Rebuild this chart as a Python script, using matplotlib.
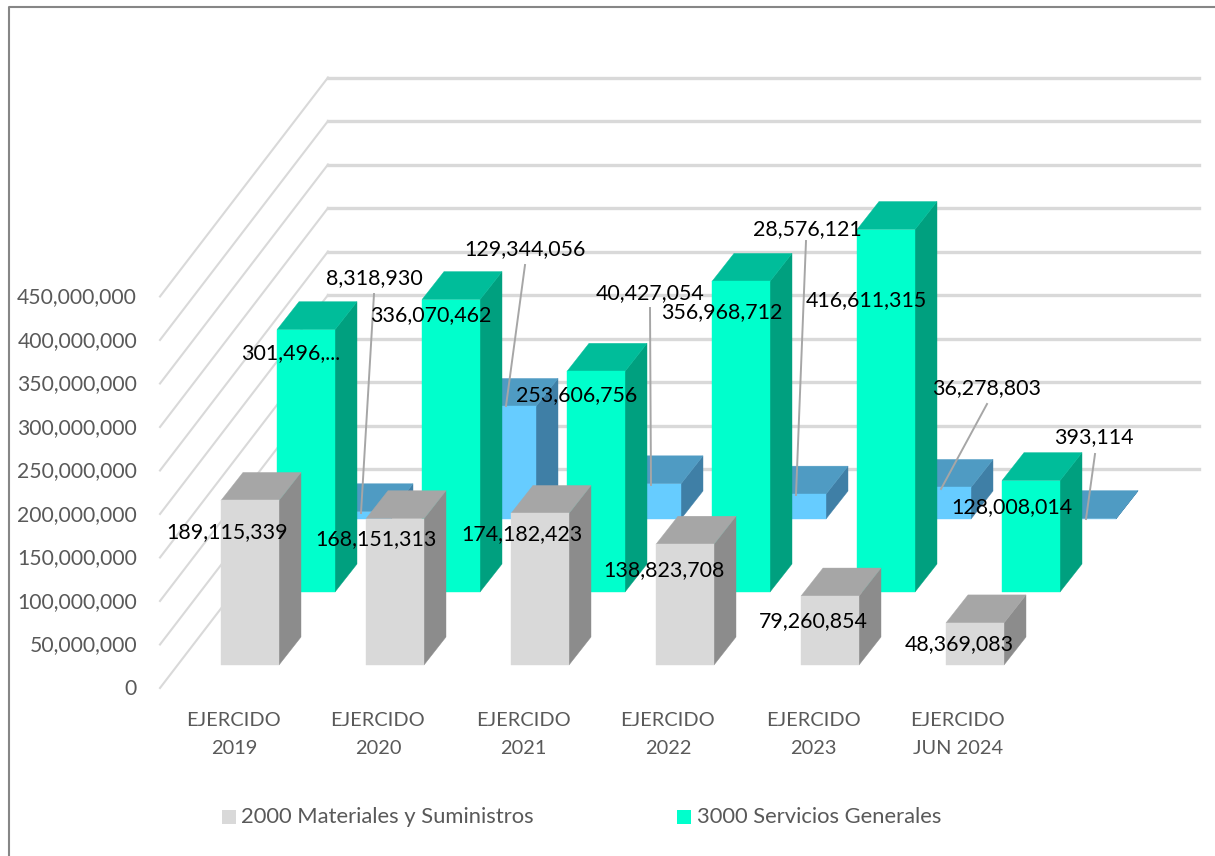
import matplotlib
matplotlib.use("Agg")
import matplotlib.pyplot as plt
from matplotlib.patches import Polygon, Rectangle

plt.rcParams['font.family'] = ['Lato', 'DejaVu Sans']

categories = ["EJERCIDO\n2019", "EJERCIDO\n2020", "EJERCIDO\n2021",
              "EJERCIDO\n2022", "EJERCIDO\n2023", "EJERCIDO\nJUN 2024"]
materiales = [189115339, 168151313, 174182423, 138823708, 79260854, 48369083]
servicios = [301496000, 336070462, 253606756, 356968712, 416611315, 128008014]
tercera = [8318930, 129344056, 40427054, 28576121, 36278803, 393114]
materiales_txt = ["189,115,339", "168,151,313", "174,182,423", "138,823,708", "79,260,854", "48,369,083"]
servicios_txt = ["301,496,...", "336,070,462", "253,606,756", "356,968,712", "416,611,315", "128,008,014"]
tercera_txt = ["8,318,930", "129,344,056", "40,427,054", "28,576,121", "36,278,803", "393,114"]
y_ticks = [0, 50000000, 100000000, 150000000, 200000000, 250000000, 300000000,
           350000000, 400000000, 450000000]

# --- projection (oblique 3D onto the page, pixel space) ---
PX_PER_UNIT = 43.5 / 50000000
CAT_STEP, BAR_W = 145.0, 58.0
ROW_DX, ROW_DY = 56.0, -73.0
BAR_DX, BAR_DY = 22.0, -28.0
X0, BASE0 = 221.0, 665.0
WALL_X0, WALL_X1, WALL_XR, WALL_Y0, WALL_YB = 160.0, 328.0, 1199.0, 688.0, 469.0


def bar_faces(cat, row, value):
    xl = X0 + CAT_STEP * cat + ROW_DX * row
    yb = BASE0 + ROW_DY * row
    xr = xl + BAR_W
    yt = yb - value * PX_PER_UNIT
    front = [(xl, yb), (xr, yb), (xr, yt), (xl, yt)]
    side = [(xr, yb), (xr + BAR_DX, yb + BAR_DY), (xr + BAR_DX, yt + BAR_DY), (xr, yt)]
    top = [(xl, yt), (xr, yt), (xr + BAR_DX, yt + BAR_DY), (xl + BAR_DX, yt + BAR_DY)]
    return front, side, top


fig = plt.figure(figsize=(12.15, 8.56), dpi=100, facecolor="white")
ax = fig.add_axes([0, 0, 1, 1])
ax.set_xlim(0, 1215)
ax.set_ylim(856, 0)
ax.axis("off")

# outer frame
ax.plot([8.5, 8.5, 1215], [856, 6.5, 6.5], color="#868686", lw=1.5, zorder=1)

# walls' gridlines
GRID = "#D9D9D9"
for t in y_ticks:
    dy = t * PX_PER_UNIT
    ax.plot([WALL_X0, WALL_X1], [WALL_Y0 - dy, WALL_YB - dy], color=GRID, lw=1.5, zorder=2)
    ax.plot([WALL_X1, WALL_XR], [WALL_YB - dy, WALL_YB - dy], color=GRID, lw=2.4, zorder=2)
    ax.text(137, WALL_Y0 + 1 - dy, f"{t:,}", ha="right", va="center", fontsize=15.2, color="#595959", zorder=10)

# bars, from the back row to the front
rows = [(2, tercera, "#66CCFF", "#3F7FA6", "#4F9BC3"),
        (1, servicios, "#00FFCC", "#00A07F", "#00BD9A"),
        (0, materiales, "#D9D9D9", "#8C8C8C", "#A6A6A6")]
z = 3
for row, values, c_front, c_side, c_top in rows:
    for cat, v in enumerate(values):
        front, side, top = bar_faces(cat, row, v)
        for pts, col in ((side, c_side), (top, c_top), (front, c_front)):
            ax.add_patch(Polygon(pts, closed=True, facecolor=col, edgecolor=col, lw=0.3, zorder=z))
    z += 1

# category labels
cat_x = [234, 378, 523, 668, 813, 958]
for x, lab in zip(cat_x, categories):
    l1, l2 = lab.split("\n")
    ax.text(x, 720, l1, ha="center", va="center", fontsize=14.4, color="#595959", zorder=10)
    ax.text(x, 748, l2, ha="center", va="center", fontsize=14.4, color="#595959", zorder=10)

# leader lines for the back-row labels
leader_from = [(374, 294), (525, 265), (650, 308), (806, 241), (987, 404), (1095, 454)]
leader_to = [(361, 513), (506, 406), (651, 485), (796, 495), (941, 489), (1086, 519)]
for (x1, y1), (x2, y2) in zip(leader_from, leader_to):
    ax.plot([x1, x2], [y1, y2], color="#A6A6A6", lw=1.4, zorder=8)

# data labels
mat_pos = [(227, 532), (376, 539), (522, 534), (664, 570), (813, 621), (959, 644)]
ser_pos = [(291, 353), (431, 315), (577, 395), (722, 312), (866, 300), (1012, 507)]
ter_pos = [(374, 278), (525, 249), (650, 293), (807, 229), (987, 388), (1094, 437)]
for labels, positions in ((materiales_txt, mat_pos), (servicios_txt, ser_pos), (tercera_txt, ter_pos)):
    for s, (x, y) in zip(labels, positions):
        ax.text(x, y, s, ha="center", va="center", fontsize=15.4, color="black", zorder=9)

# legend
legend_items = [("2000 Materiales y Suministros", 222, 241, "#D9D9D9"),
                ("3000 Servicios Generales", 677, 697, "#00FFCC")]
for s, xs, xt, col in legend_items:
    ax.add_patch(Rectangle((xs, 810), 14, 14, facecolor=col, edgecolor="none", zorder=10))
    ax.text(xt, 817, s, ha="left", va="center", fontsize=15.8, color="#595959", zorder=10)

fig.savefig("out.png", dpi=100)
